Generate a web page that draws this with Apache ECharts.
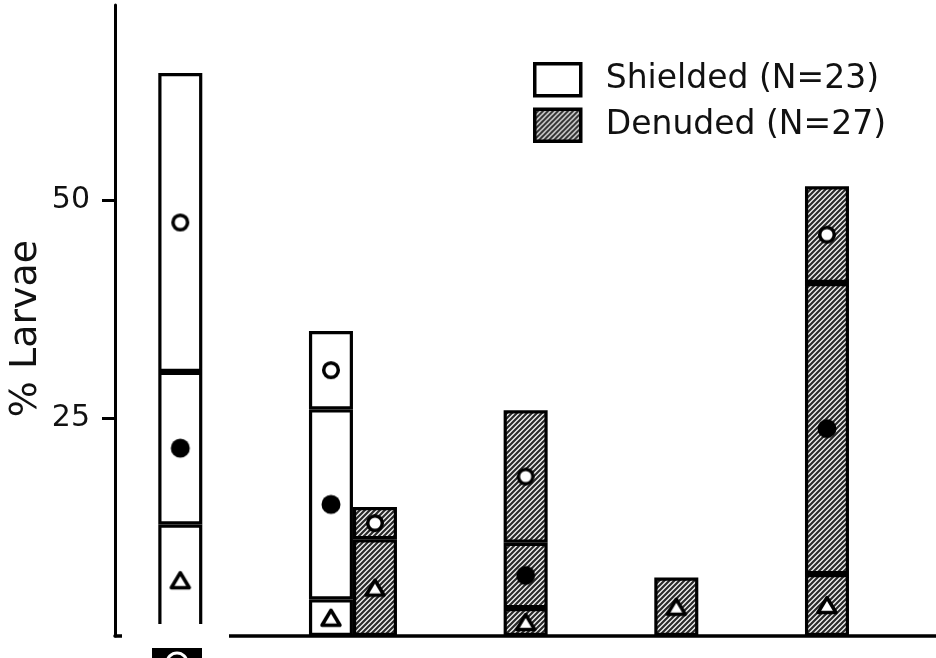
<!DOCTYPE html>
<html><head><meta charset="utf-8">
<script src="https://cdn.jsdelivr.net/npm/echarts@6/dist/echarts.min.js"></script>
<style>html,body{margin:0;padding:0;background:#fff}#c{width:936px;height:658px}</style>
</head><body><div id="c"></div>
<script>
// ---- data ----
const categories = ['1', '2', '3', '4', '5'];
const yTicks = [25, 50];
const shieldedName = 'Shielded (N=23)';
const denudedName = 'Denuded (N=27)';
// segments: bottom (triangle), middle (filled circle), top (open circle)
const shieldedBottom = [12.8, 4.2, null, null, null];
const shieldedMid    = [17.5, 21.8, null, null, null];
const shieldedTop    = [34.3, 9.0, null, null, null];
const denudedBottom  = [null, 11.1, 3.2, 6.7, 7.1];
const denudedMid     = [null, null, 7.5, null, 33.4];
const denudedTop     = [null, 3.7, 15.2, null, 11.1];

// ---- graphics helpers ----
function hatch() {
  const n = 5, c = document.createElement('canvas');
  c.width = n; c.height = n;
  const g = c.getContext('2d');
  g.fillStyle = '#f2f2f2'; g.fillRect(0, 0, n, n);
  g.strokeStyle = '#2a2a2a'; g.lineWidth = 2.2;
  g.beginPath();
  g.moveTo(-1, n + 1); g.lineTo(n + 1, -1);
  g.moveTo(-1, 1); g.lineTo(1, -1);
  g.moveTo(n - 1, n + 1); g.lineTo(n + 1, n - 1);
  g.stroke();
  return c;
}
function marker(type) {
  const s = 24, c = document.createElement('canvas');
  c.width = s; c.height = s;
  const g = c.getContext('2d');
  g.lineWidth = 3.5; g.strokeStyle = '#000'; g.lineJoin = 'round';
  if (type === 'open') {
    g.beginPath(); g.arc(12, 12, 7.3, 0, Math.PI * 2);
    g.fillStyle = '#fff'; g.fill(); g.stroke();
  } else if (type === 'filled') {
    g.beginPath(); g.arc(12, 12, 9.5, 0, Math.PI * 2);
    g.fillStyle = '#000'; g.fill();
  } else {
    g.beginPath(); g.moveTo(12, 4.5); g.lineTo(21, 19.5); g.lineTo(3, 19.5); g.closePath();
    g.fillStyle = '#fff'; g.fill(); g.stroke();
  }
  return c;
}
const pattern = { image: hatch(), repeat: 'repeat' };
const mk = { open: marker('open'), filled: marker('filled'), tri: marker('tri') };

const BAR_W = 44;
// data items are [value, categoryIndex]; encode maps column 1 to x, column 0 to y
function seg(name, stack, values, fill, mtype) {
  return {
    type: 'bar', name: name, stack: stack, barWidth: BAR_W, barGap: '0%',
    encode: { x: 1, y: 0 },
    data: values.map((v, i) => [v, i]),
    itemStyle: { color: fill, borderColor: '#000', borderWidth: 3.2 },
    label: {
      show: true, position: 'inside',
      formatter: '{m|}',
      rich: { m: { width: 24, height: 24, backgroundColor: { image: mk[mtype] } } }
    },
    emphasis: { disabled: true },
    silent: true
  };
}

const series = [
  seg(shieldedName, 'S', shieldedBottom, '#fff', 'tri'),
  seg(shieldedName, 'S', shieldedMid, '#fff', 'filled'),
  seg(shieldedName, 'S', shieldedTop, '#fff', 'open'),
  seg(denudedName, 'D', denudedBottom, pattern, 'tri'),
  seg(denudedName, 'D', denudedMid, pattern, 'filled'),
  seg(denudedName, 'D', denudedTop, pattern, 'open'),
  { type: 'bar', name: 'pad', stack: 'P', barWidth: BAR_W, barGap: '0%',
    encode: { x: 1, y: 0 },
    data: categories.map((c, i) => [null, i]) }
];

const chart = echarts.init(document.getElementById('c'), null, { renderer: 'canvas' });
chart.setOption({
  animation: false,
  backgroundColor: '#fff',
  textStyle: { fontFamily: 'DejaVu Sans' },
  grid: { left: 115, right: 0, top: 5, bottom: 22, containLabel: false, outerBoundsMode: 'none' },
  legend: {
    left: 533, top: 62, padding: 0, orient: 'vertical',
    itemWidth: 46, itemHeight: 32, itemGap: 10, icon: 'rect',
    selectedMode: false,
    textStyle: { fontSize: 33, color: '#111', fontFamily: 'DejaVu Sans', padding: [6, 0, 0, 20] },
    data: [
      { name: shieldedName, itemStyle: { color: '#fff', borderColor: '#000', borderWidth: 3.5 } },
      { name: denudedName, itemStyle: { color: pattern, borderColor: '#000', borderWidth: 3.5 } }
    ]
  },
  xAxis: {
    type: 'value', min: -0.7254, max: 4.7236,
    axisLine: { show: true, onZero: false, lineStyle: { color: '#000', width: 3.5 } },
    axisTick: { show: false }, axisLabel: { show: false }, splitLine: { show: false }
  },
  yAxis: {
    type: 'value', min: 0, max: 72.4, interval: 25,
    name: '% Larvae', nameLocation: 'middle', nameGap: 70, nameRotate: 90, nameMoveOverlap: false,
    nameTextStyle: { fontSize: 38, color: '#111', fontFamily: 'DejaVu Sans', padding: [0, 16, 0, 0] },
    axisLine: { show: true, onZero: false, lineStyle: { color: '#000', width: 3 } },
    axisTick: { show: true, length: 13, lineStyle: { color: '#000', width: 3 }, customValues: yTicks },
    axisLabel: { show: true, margin: 25, fontSize: 30, color: '#111', fontFamily: 'DejaVu Sans',
      customValues: yTicks,
      formatter: v => (yTicks.indexOf(v) >= 0 ? String(v) : '') },
    splitLine: { show: false }
  },
  graphic: [
    { type: 'rect', z: 100, shape: { x: 122, y: 624, width: 107, height: 19 }, style: { fill: '#fff' } },
    { type: 'rect', z: 100, shape: { x: 152, y: 648, width: 50, height: 12 }, style: { fill: '#000' } },
    { type: 'arc', z: 101, shape: { cx: 177, cy: 663, r: 10, startAngle: Math.PI, endAngle: Math.PI * 2 },
      style: { stroke: '#fff', lineWidth: 3, fill: null } }
  ],
  series: series
});
</script>
</body></html>
